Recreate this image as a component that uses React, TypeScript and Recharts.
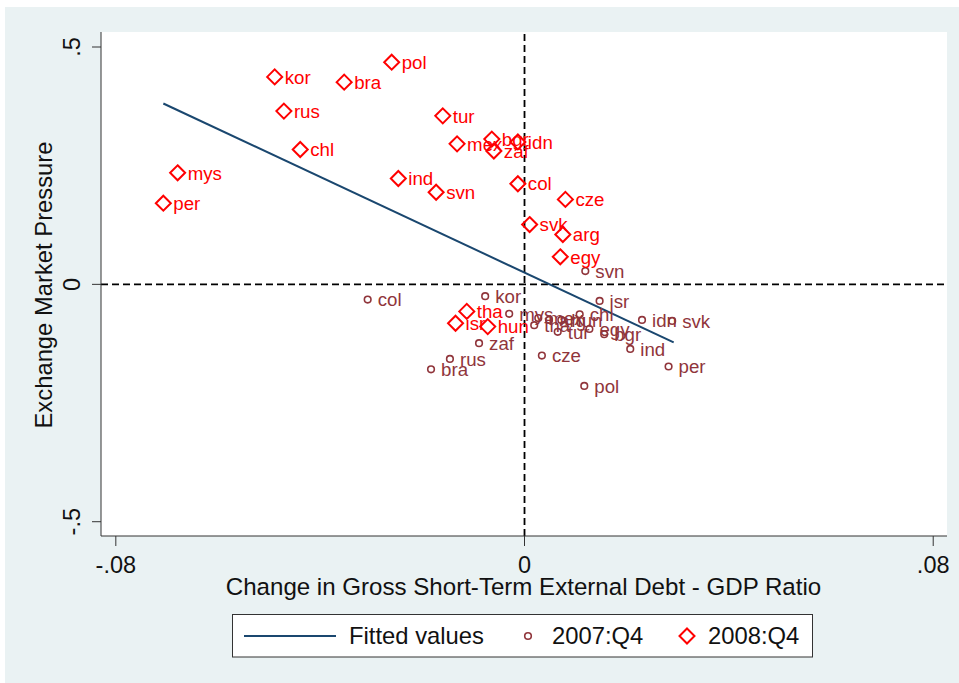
import {
  ScatterChart,
  Scatter,
  XAxis,
  YAxis,
  CartesianGrid,
  ReferenceLine,
} from "recharts";

const FONT = '"Liberation Sans", Arial, sans-serif';
const BG = "#eaf2f3";
const NAVY = "#1a476f";
const MAROON = "#90353b";
const RED = "#ff0000";

type Pt = { code: string; x: number; y: number };

// axis setup
const xTicks = [-0.08, 0, 0.08];
const yTicks = [-0.5, 0, 0.5];
const xDomain = [-0.0829, 0.0827];
const yDomain = [-0.5301, 0.5316];

// 2007:Q4 observations
const q4_2007: Pt[] = [
  { code: "svn", x: 0.0119, y: 0.028 },
  { code: "col", x: -0.0307, y: -0.032 },
  { code: "kor", x: -0.0077, y: -0.025 },
  { code: "mys", x: -0.003, y: -0.062 },
  { code: "zaf", x: -0.0089, y: -0.124 },
  { code: "rus", x: -0.0146, y: -0.157 },
  { code: "bra", x: -0.0183, y: -0.179 },
  { code: "cze", x: 0.0034, y: -0.15 },
  { code: "pol", x: 0.0117, y: -0.214 },
  { code: "isr", x: 0.0147, y: -0.035 },
  { code: "mex", x: 0.0027, y: -0.071 },
  { code: "arg", x: 0.0048, y: -0.075 },
  { code: "hun", x: 0.0072, y: -0.075 },
  { code: "chl", x: 0.0108, y: -0.063 },
  { code: "tha", x: 0.0019, y: -0.086 },
  { code: "tur", x: 0.0065, y: -0.1 },
  { code: "egy", x: 0.0127, y: -0.094 },
  { code: "bgr", x: 0.0156, y: -0.105 },
  { code: "idn", x: 0.023, y: -0.075 },
  { code: "svk", x: 0.0289, y: -0.077 },
  { code: "ind", x: 0.0207, y: -0.136 },
  { code: "per", x: 0.0282, y: -0.173 },
];

// 2008:Q4 observations
const q4_2008: Pt[] = [
  { code: "kor", x: -0.0489, y: 0.437 },
  { code: "bra", x: -0.0353, y: 0.426 },
  { code: "pol", x: -0.026, y: 0.468 },
  { code: "rus", x: -0.0471, y: 0.365 },
  { code: "tur", x: -0.016, y: 0.355 },
  { code: "chl", x: -0.0439, y: 0.284 },
  { code: "mex", x: -0.0132, y: 0.296 },
  { code: "bgr", x: -0.0064, y: 0.306 },
  { code: "zaf", x: -0.006, y: 0.281 },
  { code: "idn", x: -0.0013, y: 0.3 },
  { code: "mys", x: -0.0679, y: 0.235 },
  { code: "per", x: -0.0707, y: 0.171 },
  { code: "ind", x: -0.0247, y: 0.223 },
  { code: "svn", x: -0.0173, y: 0.194 },
  { code: "col", x: -0.0013, y: 0.212 },
  { code: "cze", x: 0.008, y: 0.179 },
  { code: "svk", x: 0.001, y: 0.126 },
  { code: "arg", x: 0.0075, y: 0.105 },
  { code: "egy", x: 0.007, y: 0.058 },
  { code: "tha", x: -0.0113, y: -0.057 },
  { code: "isr", x: -0.0135, y: -0.082 },
  { code: "hun", x: -0.0072, y: -0.089 },
];

// fitted values (end points of the regression line)
const fitted = [
  { x: -0.0707, y: 0.381 },
  { x: 0.0292, y: -0.1223 },
];

function fmt(v: number) {
  if (v === 0) return "0";
  return String(v).replace(/^(-?)0\./, "$1.");
}

const XTick = (p: any) => (
  <text
    x={p.x}
    y={573}
    textAnchor="middle"
    fontSize={23.5}
    fontFamily={FONT}
    fill="#111"
  >
    {fmt(p.payload.value)}
  </text>
);

const YTick = (p: any) => (
  <text
    x={80}
    y={p.y}
    transform={`rotate(-90 80 ${p.y})`}
    textAnchor="middle"
    fontSize={23.5}
    fontFamily={FONT}
    fill="#111"
  >
    {fmt(p.payload.value)}
  </text>
);

const CircleMark = (p: any) => {
  const { cx, cy, payload } = p;
  return (
    <g>
      <circle cx={cx} cy={cy} r={3.3} fill="none" stroke={MAROON} strokeWidth={1.6} />
      <text x={cx + 10} y={cy} dy="0.36em" fontSize={18.7} fontFamily={FONT} fill={MAROON}>
        {payload.code}
      </text>
    </g>
  );
};

const DiamondMark = (p: any) => {
  const { cx, cy, payload } = p;
  const d = 7.5;
  return (
    <g>
      <polygon
        points={`${cx},${cy - d} ${cx + d},${cy} ${cx},${cy + d} ${cx - d},${cy}`}
        fill="none"
        stroke={RED}
        strokeWidth={2}
      />
      <text x={cx + 10} y={cy} dy="0.36em" fontSize={18.7} fontFamily={FONT} fill={RED}>
        {payload.code}
      </text>
    </g>
  );
};

export default function App() {
  return (
    <div style={{ position: "absolute", left: 0, top: 0, width: 959, height: 683 }}>
      <div
        style={{ position: "absolute", left: 5, top: 7, width: 954, height: 676, background: BG }}
      />

      <div style={{ position: "absolute", left: 0, top: 0 }}>
        <ScatterChart
          width={959}
          height={683}
          margin={{ top: 32, right: 12, bottom: 87, left: 41 }}
        >
          <CartesianGrid fill="#ffffff" horizontal={false} vertical={false} />
          <XAxis
            type="number"
            dataKey="x"
            domain={xDomain}
            ticks={xTicks}
            interval={0}
            allowDataOverflow
            height={60}
            tickSize={10}
            stroke="#333"
            tick={(p: any) => <XTick {...p} />}
          />
          <YAxis
            type="number"
            dataKey="y"
            domain={yDomain}
            ticks={yTicks}
            interval={0}
            allowDataOverflow
            width={60}
            tickSize={9}
            stroke="#333"
            tick={(p: any) => <YTick {...p} />}
          />
          <ReferenceLine x={0} stroke="#000" strokeWidth={1.8} strokeDasharray="7 4" />
          <ReferenceLine y={0} stroke="#000" strokeWidth={1.8} strokeDasharray="7 4" />
          <Scatter
            data={fitted}
            line={{ stroke: NAVY, strokeWidth: 2 }}
            shape={() => <g />}
            isAnimationActive={false}
          />
          <Scatter data={q4_2007} shape={CircleMark} isAnimationActive={false} />
          <Scatter data={q4_2008} shape={DiamondMark} isAnimationActive={false} />
        </ScatterChart>
      </div>

      {/* titles and legend */}
      <svg
        width={959}
        height={683}
        style={{ position: "absolute", left: 0, top: 0, pointerEvents: "none" }}
        fontFamily={FONT}
      >
        <text
          x={52}
          y={285}
          transform="rotate(-90 52 285)"
          textAnchor="middle"
          fontSize={23.8}
          fill="#111"
        >
          Exchange Market Pressure
        </text>
        <text x={523.5} y={595} textAnchor="middle" fontSize={24.1} fill="#111">
          Change in Gross Short-Term External Debt - GDP Ratio
        </text>

        <rect x={232.5} y={614.5} width={580} height={42.5} fill="#fff" stroke="#333" strokeWidth={1} />
        <line x1={244} y1={636} x2={336} y2={636} stroke={NAVY} strokeWidth={2} />
        <text x={349} y={644} fontSize={23.8} fill="#111">
          Fitted values
        </text>
        <circle cx={528} cy={636} r={3.3} fill="none" stroke={MAROON} strokeWidth={1.6} />
        <text x={552} y={644} fontSize={23.8} fill="#111">
          2007:Q4
        </text>
        <polygon
          points="687,628.5 694.5,636 687,643.5 679.5,636"
          fill="none"
          stroke={RED}
          strokeWidth={2}
        />
        <text x={708} y={644} fontSize={23.8} fill="#111">
          2008:Q4
        </text>
      </svg>
    </div>
  );
}
